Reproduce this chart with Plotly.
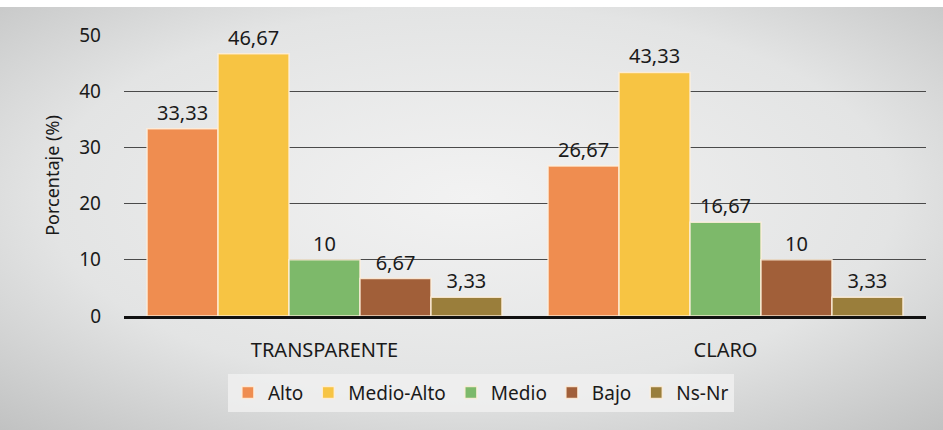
import plotly.graph_objects as go

categories = ["TRANSPARENTE", "CLARO"]
series_names = ["Alto", "Medio-Alto", "Medio", "Bajo", "Ns-Nr"]
alto = [33.33, 26.67]
medio_alto = [46.67, 43.33]
medio = [10, 16.67]
bajo = [6.67, 10]
ns_nr = [3.33, 3.33]
values = [alto, medio_alto, medio, bajo, ns_nr]
colors = ["#EF8D50", "#F7C443", "#7DB96A", "#A15F39", "#9A7E3B"]

def fmt(v):
    s = ("%.2f" % v).rstrip("0").rstrip(".")
    return s.replace(".", ",")

fig = go.Figure()
for name, vals, col in zip(series_names, values, colors):
    fig.add_trace(go.Bar(
        x=categories, y=vals, name=name,
        marker=dict(color=col, line=dict(color="rgba(255,240,220,0.85)", width=1.5)),
        text=[fmt(v) for v in vals], textposition="outside",
        textfont=dict(size=20, color="#1a1a1a"), cliponaxis=False,
    ))

svg = ("data:image/svg+xml;utf8,<svg xmlns='http://www.w3.org/2000/svg' width='943' height='423'>"
       "<defs><radialGradient id='g' cx='0.5' cy='0.45' r='0.75'>"
       "<stop offset='0' stop-color='%23f2f2f2'/><stop offset='0.6' stop-color='%23e3e4e4'/>"
       "<stop offset='1' stop-color='%23c0c1c1'/></radialGradient></defs>"
       "<rect width='943' height='423' fill='url(%23g)'/></svg>")

fig.update_layout(
    width=943, height=430,
    margin=dict(l=124, r=17, t=35, b=114, autoexpand=False),
    paper_bgcolor="white", plot_bgcolor="rgba(0,0,0,0)",
    font=dict(family="Noto Sans", size=17, color="#1a1a1a"),
    barmode="group", bargap=0.115, bargroupgap=0,
    showlegend=True,
    legend=dict(orientation="h", x=0.445, xanchor="center", y=-0.205, yanchor="top",
                bgcolor="rgba(240,240,240,0.85)", font=dict(size=19),
                itemwidth=30, traceorder="normal"),
    images=[dict(source=svg, xref="paper", yref="paper", x=-124/802, y=1 + 28/281,
                 sizex=943/802, sizey=423/281, sizing="stretch", layer="below",
                 xanchor="left", yanchor="top")],
)
fig.update_yaxes(range=[0, 50], dtick=10, showgrid=True, gridcolor="#4a4a4a", gridwidth=1,
                 zeroline=False, showline=False, ticks="", ticklabelstandoff=22,
                 automargin=False,
                 title=dict(text="Porcentaje (%)", font=dict(size=18), standoff=14),
                 tickfont=dict(size=19))
fig.update_xaxes(showline=True, linecolor="#111", linewidth=3, ticks="",
                 automargin=False, ticklabelstandoff=14,
                 tickfont=dict(size=20))

fig.write_html("out.html", config={"displayModeBar": False},
               post_script="document.body.style.margin='0px';")
